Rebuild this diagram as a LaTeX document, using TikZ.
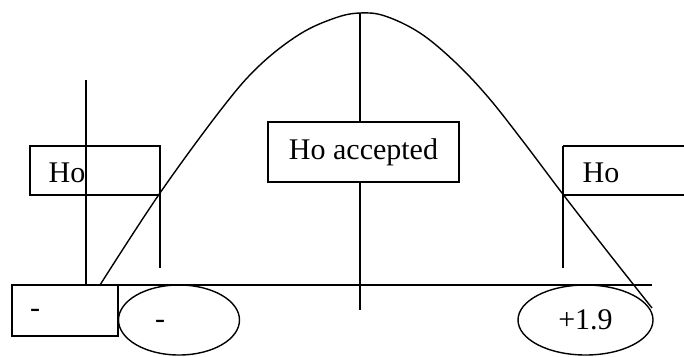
\documentclass[tikz,border=0pt]{standalone}
\usepackage{fontspec}
\setmainfont{Liberation Serif}
\usetikzlibrary{shapes.geometric}
\begin{document}
\begin{tikzpicture}[x=1pt,y=-1pt,line width=1.4pt,
  every node/.style={font=\fontsize{30}{34}\selectfont},
  box/.style={draw,rectangle,inner sep=0pt},
  oval/.style={draw,ellipse,inner sep=0pt}]
\useasboundingbox (0,0) rectangle (684,356);
% baseline and verticals
\draw (118,285) -- (652,285);
\draw (86,80) -- (86,285);
\draw (160,195) -- (160,268);
\draw (360,13) -- (360,310);
\draw (563,146) -- (563,268);
% left Ho box
\node[box,minimum width=130pt,minimum height=49pt] (hoL) at (95,170.5) {};
\node at (67,173) {Ho};
% right Ho box (open on right)
\draw (684,146) -- (563,146) (563,195) -- (684,195);
\node (hoR) at (601,173) {Ho};
% center box
\node[box,fill=white,minimum width=191pt,minimum height=60pt] (acc) at (363.5,152) {Ho accepted};
% bottom-left box
\node[box,fill=white,minimum width=106pt,minimum height=51pt] (bl) at (65,310.5) {};
\node at (35,313) {-};
% ellipses
\node[oval,minimum width=121pt,minimum height=70pt] (eL) at (179,320) {};
\node at (160,324) {-};
\node[oval,minimum width=135pt,minimum height=70pt] (eR) at (585.5,320) {+1.9};
% curve
\draw plot[smooth,tension=0.6] coordinates {(100,285) (160,193) (223,107) (260,65) (300,34) (335,18) (360,13) (385,16) (420,33) (455,62) (488,97) (522,140) (562,193) (607,251) (652,308)};
\end{tikzpicture}
\end{document}
